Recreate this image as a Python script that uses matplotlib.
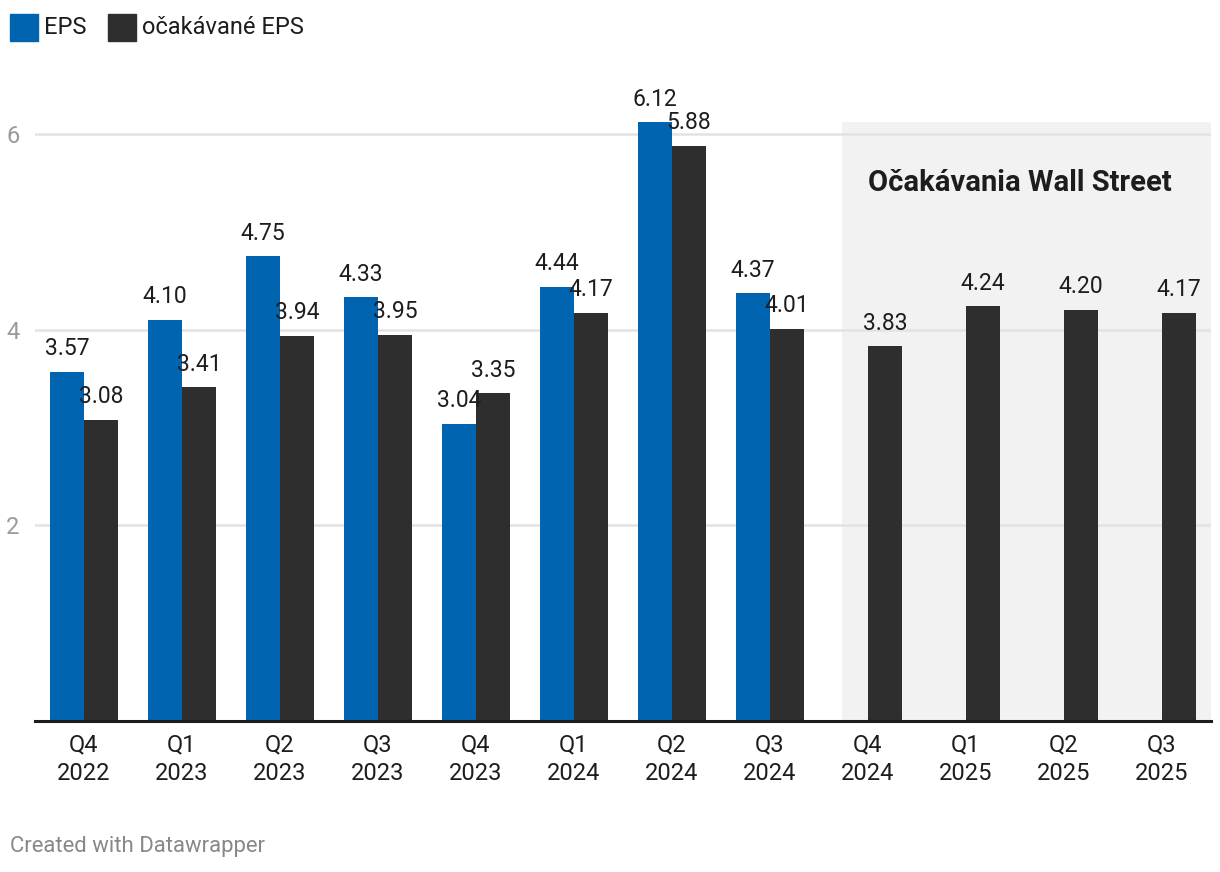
import matplotlib
matplotlib.use("Agg")
import matplotlib.pyplot as plt
from matplotlib.patches import Rectangle
import numpy as np

plt.rcParams['font.family'] = ['Roboto', 'DejaVu Sans']

# data
quarters = ["Q4\n2022", "Q1\n2023", "Q2\n2023", "Q3\n2023", "Q4\n2023", "Q1\n2024",
            "Q2\n2024", "Q3\n2024", "Q4\n2024", "Q1\n2025", "Q2\n2025", "Q3\n2025"]
eps = [3.57, 4.10, 4.75, 4.33, 3.04, 4.44, 6.12, 4.37]
eps_expected = [3.08, 3.41, 3.94, 3.95, 3.35, 4.17, 5.88, 4.01, 3.83, 4.24, 4.20, 4.17]
yticks = [2, 4, 6]

BLUE = '#0064b0'
DARK = '#2e2e2e'

W, H = 1220, 872
fig = plt.figure(figsize=(W / 100, H / 100), dpi=100)
ax = fig.add_axes([35 / W, 1 - 721 / H, (1211 - 35) / W, (721 - 122) / H])

x = np.arange(len(quarters))
bw = 0.347

# shaded forecast area
ax.axvspan(7.73, 11.5, color='#f2f2f2', zorder=0, lw=0)
ax.text(9.55, 5.5, "Očakávania Wall Street", ha='center', va='center',
        fontsize=21, fontweight='bold', color='#1d1d1d')

for y in yticks:
    ax.axhline(y, color='#e3e3e3', lw=1.8, zorder=1)

b1 = ax.bar(x[:len(eps)] - bw / 2, eps, bw, color=BLUE, zorder=2)
b2 = ax.bar(x + bw / 2, eps_expected, bw, color=DARK, zorder=2)

for bars, vals in ((b1, eps), (b2, eps_expected)):
    for rect, v in zip(bars, vals):
        ax.annotate(f"{v:.2f}", (rect.get_x() + rect.get_width() / 2, v),
                    xytext=(0, 12), textcoords='offset points',
                    ha='center', va='baseline', fontsize=16.5, color='#1d1d1d', zorder=3)

ax.set_xlim(-0.5, 11.5)
ax.set_ylim(0, 6.123)
ax.set_xticks(x)
ax.set_xticklabels(quarters, fontsize=17, color='#1d1d1d', linespacing=1.32)
ax.set_yticks(yticks)
ax.set_yticklabels([str(t) for t in yticks], fontsize=17, color='#9a9a9a')
ax.tick_params(axis='x', length=0, pad=9)
ax.tick_params(axis='y', length=0, pad=11)
for s in ['top', 'right', 'left']:
    ax.spines[s].set_visible(False)
ax.spines['bottom'].set_color('#1d1d1d')
ax.spines['bottom'].set_linewidth(2.2)
ax.spines['bottom'].set_zorder(4)

# legend
for x0, label, col in ((10, "EPS", BLUE), (108, "očakávané EPS", DARK)):
    fig.patches.append(Rectangle((x0 / W, 1 - 41 / H), 28 / W, 27 / H,
                                 transform=fig.transFigure, color=col))
    fig.text((x0 + 34) / W, 1 - 28 / H, label, ha='left', va='center',
             fontsize=17, color='#1d1d1d')

fig.text(10 / W, 1 - 846 / H, "Created with Datawrapper", ha='left', va='center',
         fontsize=15.9, color='#888888')

fig.savefig("out.png", dpi=100)
